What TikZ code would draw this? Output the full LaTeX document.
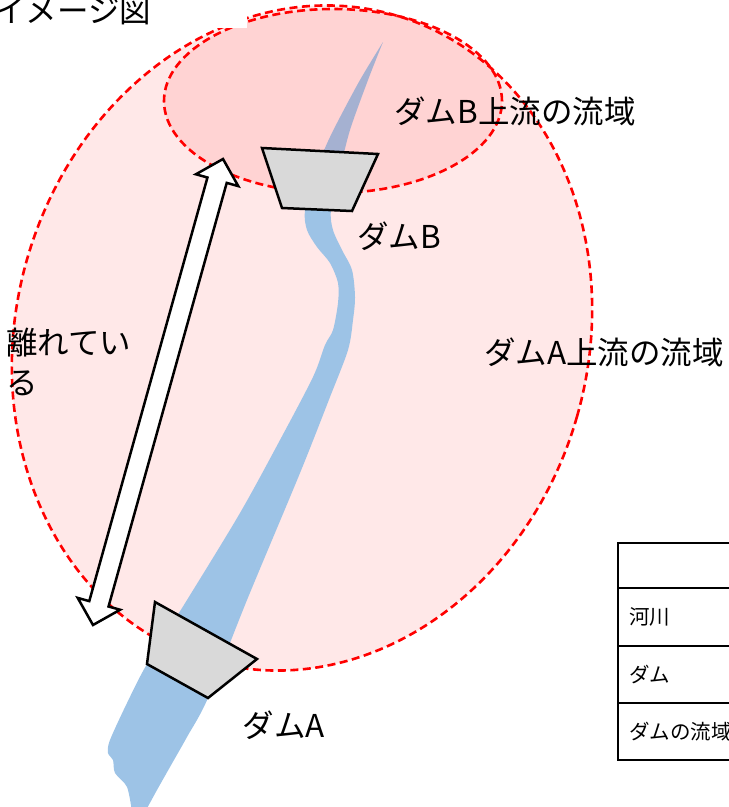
\documentclass[tikz,border=0pt]{standalone}
\usepackage{fontspec}
\setmainfont{Noto Sans CJK JP}
\usepackage{tikz}
\usetikzlibrary{shapes,calc,positioning}

\definecolor{riverblue}{RGB}{157,195,230}
\definecolor{areapink}{RGB}{255,232,232}
\definecolor{damgray}{RGB}{217,217,217}

\tikzset{
    arealine/.style={draw=red, line width=2.6pt, dash pattern=on 8pt off 4.5pt},
    damshape/.style={fill=damgray, draw=black, line width=2.5pt},
    gapshape/.style={fill=white, draw=black, line width=2.5pt},
    tag/.style={font=\fontsize{31.5}{40}\selectfont, inner sep=0pt},
    keycell/.style={draw, line width=2pt, outer sep=0pt, text width=150pt,
        inner xsep=11pt, align=left, font=\fontsize{20.5}{24}\selectfont},
}

\begin{document}
\begin{tikzpicture}[x=1pt, y=-1pt, node distance=0pt]

    \useasboundingbox (0,0) rectangle (729,807);

    \node
        [ ellipse,
            arealine,
            fill=areapink,
            inner sep=0pt,
            minimum width=572pt,
            minimum height=672pt,
            rotate=-16,
        ] (areaA) at (302,338) {};

    \fill[riverblue]
        plot[smooth, tension=0.5] coordinates {(383,42) (368,80) (350,130) (340,170) (331,210) (333,230) (342,250) (352,270) (355,297) (353,320) (348,350) (330,397) (300,473) (247,600) (208,698) (187,737) (170,767) (157,790) (145,812)}
        -- plot[smooth, tension=0.5] coordinates {(132,812) (127,787) (115,773) (113,760) (108,753) (110,740) (127,703) (147,664) (187,600) (240,513) (280,440) (313,377) (325,345) (333,330) (338,303) (338,283) (330,263) (317,247) (307,230) (305,210) (315,175) (325,148) (337,123) (360,80) (383,42)}
        -- cycle;

    \node
        [ ellipse,
            arealine,
            fill=red,
            fill opacity=0.09,
            inner sep=0pt,
            minimum width=338pt,
            minimum height=184pt,
        ] (areaB) at (333,101) {};

    \draw[damshape] (262,148) -- (378,154) -- (352,211) -- (282,208) -- cycle;
    \draw[damshape] (155,602) -- (257,659) -- (208,698) -- (147,664) -- cycle;

    \coordinate (farB) at (223,159);
    \coordinate (farA) at (93,625);
    \coordinate (headB) at ($(farB)!22pt!(farA)$);
    \coordinate (headA) at ($(farA)!22pt!(farB)$);
    \draw[gapshape]
        (farB)
        -- ($(headB)!22pt!90:(farA)$)
        -- ($(headB)!10pt!90:(farA)$)
        -- ($(headA)!10pt!-90:(farB)$)
        -- ($(headA)!22pt!-90:(farB)$)
        -- (farA)
        -- ($(headA)!22pt!90:(farB)$)
        -- ($(headA)!10pt!90:(farB)$)
        -- ($(headB)!10pt!-90:(farA)$)
        -- ($(headB)!22pt!-90:(farA)$)
        -- cycle;

    \node[tag] (labelAreaB) at (515,111) {ダムB上流の流域};
    \node[tag] (labelDamB) at (399,236) {ダムB};
    \node[tag] (labelAreaA) at (604,352) {ダムA上流の流域};
    \node[tag] (labelDamA) at (284,725) {ダムA};
    \node[tag, anchor=west, align=left] (labelGap) at (6,362) {離れてい\\る};

    \node
        [ fill=white,
            inner sep=0pt,
            text width=253pt,
            minimum height=33pt,
            anchor=north west,
            font=\fontsize{31.5}{36}\selectfont,
        ] (title) at (-6,-5) {イメージ図};

    \node[keycell, minimum height=45pt, anchor=north west] (keyhead) at (618,543) {};
    \node[keycell, minimum height=58pt, below=of keyhead] (keyriver) {河川};
    \node[keycell, minimum height=57pt, below=of keyriver] (keydam) {ダム};
    \node[keycell, minimum height=57pt, below=of keydam] (keyarea) {ダムの流域};

\end{tikzpicture}
\end{document}
